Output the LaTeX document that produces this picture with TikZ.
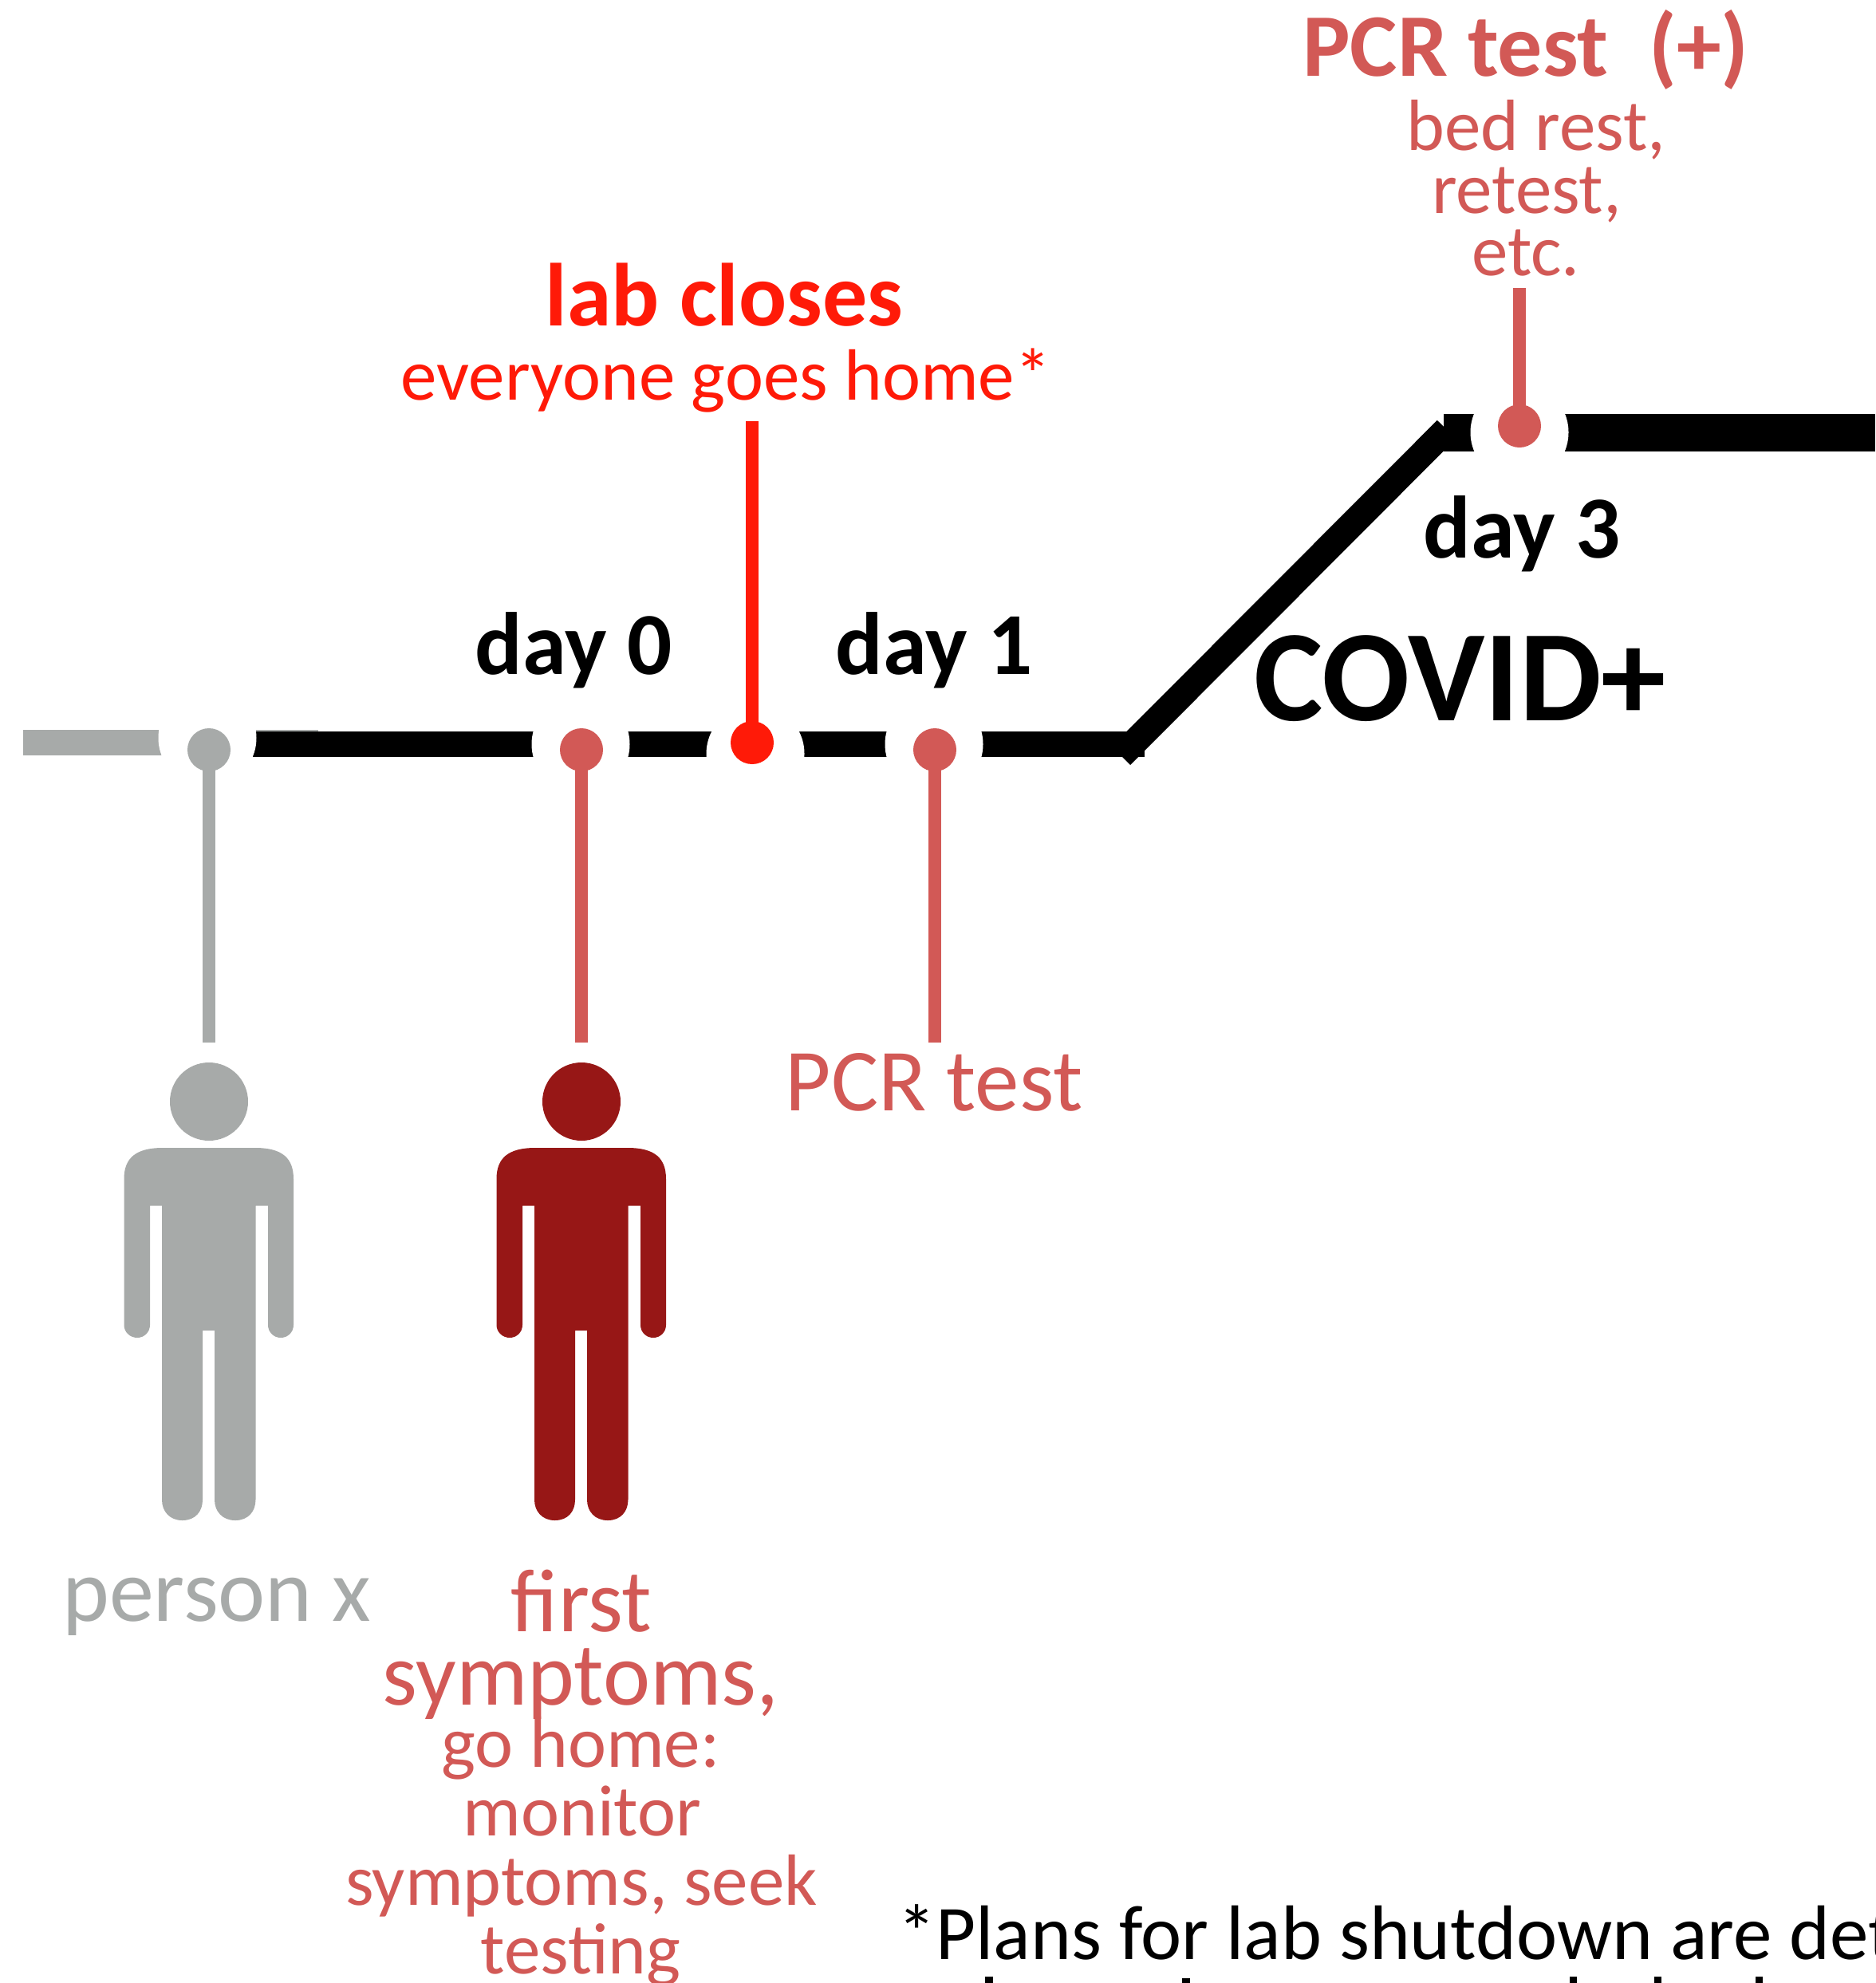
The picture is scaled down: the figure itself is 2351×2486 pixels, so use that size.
\documentclass[tikz,border=0pt]{standalone}
\usepackage{fontspec}
\setmainfont{Carlito}
\definecolor{cgrey}{HTML}{A7AAA9}
\definecolor{cdark}{HTML}{971716}
\definecolor{csalm}{HTML}{D25956}
\definecolor{cred}{HTML}{FF1A08}
\newcommand{\fs}[1]{\fontsize{#1}{#1}\selectfont}
\newcommand{\drawperson}[3]{%
  \node[circle,fill=#2,inner sep=0pt,minimum size=98pt] (#3) at (#1,1381) {};
  \fill[#2,shift={(#1,0)}] (-58,1439) -- (58,1439)
    .. controls (92,1439) and (106,1452) .. (106,1478) -- (106,1661)
    .. controls (106,1670) and (99,1677) .. (90,1677)
    .. controls (81,1677) and (74,1670) .. (74,1661) -- (74,1511.5) -- (58.5,1511.5) -- (58.5,1880)
    .. controls (58.5,1895) and (49,1906) .. (33,1906)
    .. controls (17,1906) and (7,1895) .. (7,1880) -- (7,1668) -- (-8,1668) -- (-8,1880)
    .. controls (-8,1895) and (-17,1906) .. (-33.5,1906)
    .. controls (-49,1906) and (-59,1895) .. (-59,1880) -- (-59,1511.5) -- (-74,1511.5) -- (-74,1661)
    .. controls (-74,1670) and (-81,1677) .. (-90,1677)
    .. controls (-99,1677) and (-106.5,1670) .. (-106.5,1661) -- (-106.5,1478)
    .. controls (-106.5,1452) and (-92,1439) .. (-58,1439) -- cycle;
}
\tikzset{
  dotnode/.style={circle,fill=#1,inner sep=0pt,minimum size=54pt},
  stemline/.style={draw=#1,line width=16pt},
  txt/.style={anchor=base,inner sep=0pt,align=center},
  gapc/.style={circle,fill=white,inner sep=0pt,minimum size=123pt}
}
\begin{document}
\begin{tikzpicture}[x=1pt,y=-1pt]
\useasboundingbox (0,0) rectangle (2351,2486);
\clip (0,0) rectangle (2351,2486);
% timeline
\fill[cgrey] (29,915) rectangle (210,947);
\fill[cgrey] (300,915) rectangle (399,917);
\fill[black] (300,917) rectangle (1435,949);
\coordinate (dstart) at (1405.4,947.4);
\coordinate (dend) at (1813.5,538.5);
\draw[black,line width=33pt] (dstart) -- (dend);
\fill[black] (1810,518.5) rectangle (2351,566);
% gaps
\node[gapc] (g0) at (260,925) {};
\node[gapc] (g1) at (728,933) {};
\node[gapc] (g2) at (947,945) {};
\node[gapc] (g3) at (1171,933) {};
\node[gapc] (g4) at (1905,542) {};
% dots
\node[dotnode=cgrey] (d0) at (262,940) {};
\node[dotnode=csalm] (d1) at (729,940) {};
\node[dotnode=cred]  (d2) at (943,931) {};
\node[dotnode=csalm] (d3) at (1172,940) {};
\node[dotnode=csalm] (d4) at (1905,534) {};
% stems
\coordinate (s0) at (262,1307);
\coordinate (s1) at (729,1307);
\coordinate (s2) at (943,528);
\coordinate (s3) at (1172,1307);
\coordinate (s4) at (1905,361);
\draw[stemline=cgrey] (d0.center) -- (s0);
\draw[stemline=csalm] (d1.center) -- (s1);
\draw[stemline=cred]  (d2.center) -- (s2);
\draw[stemline=csalm] (d3.center) -- (s3);
\draw[stemline=csalm] (d4.center) -- (s4);
% persons
\drawperson{262}{cgrey}{headx}
\drawperson{729}{cdark}{heady}
% text
\node[txt,text=csalm] (t1) at (1913,96) {\fs{112}\bfseries PCR test\ \ (+)};
\node[txt,text=csalm] (t2) at (1926,188) {\fs{91}bed rest,};
\node[txt,text=csalm] (t3) at (1914,267) {\fs{91}retest,};
\node[txt,text=csalm] (t4) at (1913,345) {\fs{91}etc.};
\node[txt] (t5) at (1908,699) {\fs{111}\bfseries day 3};
\node[txt] (t6) at (1831,903) {\fs{163}\bfseries COVID+};
\node[txt,text=cred] (t7) at (908,408) {\fs{112}\bfseries lab closes};
\node[txt,text=cred] (t8) at (910,501) {\fs{91}everyone goes home*};
\node[txt] (t9) at (719,845) {\fs{111}\bfseries day 0};
\node[txt] (t10) at (1171,845) {\fs{111}\bfseries day 1};
\node[txt,text=csalm] (t11) at (1171,1392) {\fs{111}PCR test};
\node[txt,text=cgrey] (t12) at (272,2032) {\fs{112}person x};
\node[txt,text=csalm] (t13) at (729,2045) {\fs{112}first};
\node[txt,text=csalm] (t14) at (728,2137) {\fs{112}symptoms,};
\node[txt,text=csalm] (t15) at (728,2215) {\fs{91}go home:};
\node[txt,text=csalm] (t16) at (730,2301) {\fs{91}monitor};
\node[txt,text=csalm] (t17) at (729,2388) {\fs{91}symptoms, seek};
\node[txt,text=csalm] (t18) at (728,2474) {\fs{91}testing};
\node[anchor=base west,inner sep=0pt] (t19) at (1125,2456) {\fs{97}*Plans for lab shutdown are determined};
% tops of the letters of the cut-off second footnote line
\fill (1235,2478) rectangle (1245,2486);
\fill (1482,2480) rectangle (1492,2486);
\fill (1968,2478) rectangle (1977,2486);
\fill (2074,2478) rectangle (2083,2486);
\fill (2201,2478) rectangle (2210,2486);
\end{tikzpicture}
\end{document}
